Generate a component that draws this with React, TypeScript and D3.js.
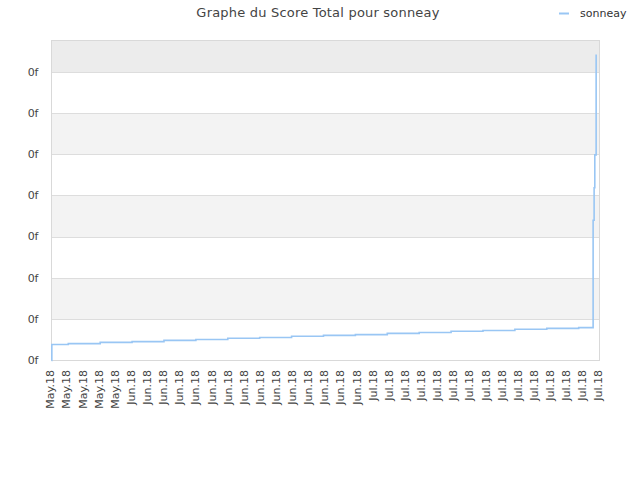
import React from "react";
import * as d3 from "d3";

const title = "Graphe du Score Total pour sonneay";
const seriesName = "sonneay";

// step-line data (time, score in axis units)
const dates = [
  "2018-05-23T00:00", "2018-05-23T01:00", "2018-05-25T02:00", "2018-05-29T01:00",
  "2018-06-02T00:00", "2018-06-05T23:00", "2018-06-09T22:00", "2018-06-13T21:00",
  "2018-06-17T20:00", "2018-06-21T19:00", "2018-06-25T18:00", "2018-06-29T17:00",
  "2018-07-03T16:00", "2018-07-07T15:00", "2018-07-11T14:00", "2018-07-15T13:00",
  "2018-07-19T12:00", "2018-07-23T11:00", "2018-07-27T10:00", "2018-07-29T05:00",
  "2018-07-29T08:00", "2018-07-29T10:00", "2018-07-29T14:00",
];
const values = [
  0, 0.39, 0.41, 0.44,
  0.46, 0.49, 0.51, 0.54,
  0.56, 0.59, 0.61, 0.63,
  0.66, 0.68, 0.71, 0.73,
  0.76, 0.78, 0.8, 3.41,
  4.2, 5.0, 7.44,
];

const yTickValues = [0, 1, 2, 3, 4, 5, 6, 7];
const yTickLabels = ["0f", "0f", "0f", "0f", "0f", "0f", "0f", "0f"];
const xDomain = ["2018-05-23T00:00", "2018-07-30T00:00"];
const yDomain = [0, 7.78];

const parse = d3.timeParse("%Y-%m-%dT%H:%M");
const fmt = d3.timeFormat("%b.%y");

export default function App() {
  const W = 640, H = 480;
  const left = 51.5, right = 599.5, top = 40, bottom = 360;
  const x = d3.scaleTime().domain(xDomain.map((d) => parse(d) as Date)).range([left, right]);
  const y = d3.scaleLinear().domain(yDomain).range([bottom, top]);
  const pts = dates.map((d, i) => [x(parse(d) as Date), y(values[i]) + 0.5] as [number, number]);
  const line = d3.line().curve(d3.curveStepAfter)(pts) || "";
  const xTicks = d3.timeDay.range(parse(xDomain[0]) as Date, d3.timeDay.offset(parse(xDomain[1]) as Date, 1), 1)
    .filter((_, i) => i % 2 === 0);

  const bands: { y0: number; y1: number; fill: string }[] = [];
  const edges = [...yTickValues, yDomain[1]];
  for (let i = 0; i < edges.length - 1; i++) {
    const fromTop = edges.length - 2 - i;
    let fill = "none";
    if (i === edges.length - 2) fill = "#ececec";
    else if (fromTop % 2 === 0) fill = "#f3f3f3";
    if (fill !== "none") bands.push({ y0: Math.round(y(edges[i + 1])), y1: Math.round(y(edges[i])), fill });
  }

  const font = "'DejaVu Sans', Verdana, sans-serif";
  return (
    <svg width={W} height={H} style={{ position: "absolute", left: 0, top: 0, background: "#fff" }} fontFamily={font}>
      {bands.map((b, i) => (
        <rect key={i} x={left} y={b.y0} width={right - left} height={b.y1 - b.y0} fill={b.fill} />
      ))}
      {yTickValues.map((v, i) => (
        <line key={"g" + i} x1={left} x2={right} y1={Math.round(y(v)) + 0.5} y2={Math.round(y(v)) + 0.5} stroke="#dddddd" />
      ))}
      <rect x={left} y={top + 0.5} width={right - left} height={bottom - top} fill="none" stroke="#d9d9d9" />
      {yTickValues.map((v, i) => (
        <text key={"yl" + i} x={38.5} y={y(v)} dy="0.35em" textAnchor="end" fontSize={11} fill="#444">
          {yTickLabels[i]}
        </text>
      ))}
      {xTicks.map((d, i) => (
        <text key={"xl" + i} transform={`translate(${x(d) - 1},370) rotate(-90)`} dy="0.35em" textAnchor="end" fontSize={11} fill="#444">
          {fmt(d)}
        </text>
      ))}
      <path d={line} fill="none" stroke="#99c6f4" strokeWidth={1.6} />
      <text x={318} y={17} textAnchor="middle" fontSize={13} letterSpacing={0.2} fill="#444">{title}</text>
      <line x1={559} x2={569} y1={13.5} y2={13.5} stroke="#99c6f4" strokeWidth={2} />
      <text x={580} y={13} dy="0.35em" fontSize={11} fill="#333">{seriesName}</text>
    </svg>
  );
}
